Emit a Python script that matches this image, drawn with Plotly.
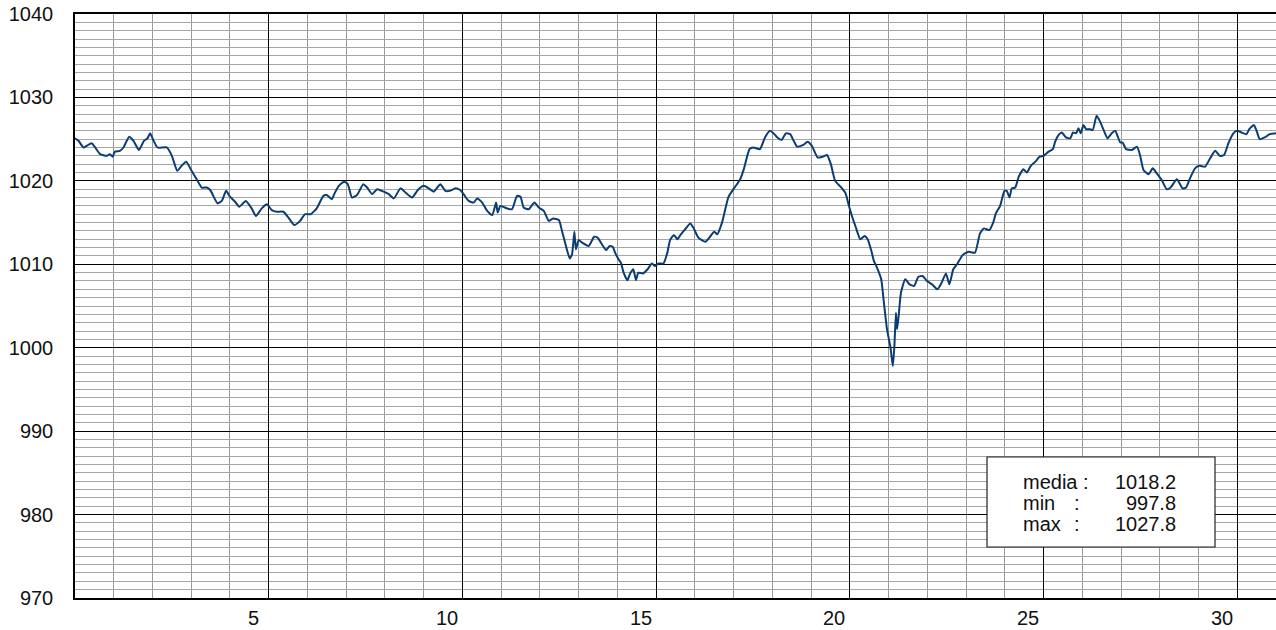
import plotly.graph_objects as go

# ---- data ----
day = [0.00,0.09,0.22,0.30,0.43,0.52,0.65,0.82,0.90,0.97,1.03,1.16,1.25,1.40,1.51,1.65,1.78,1.87,1.94,2.01,
       2.13,2.37,2.50,2.64,2.75,2.87,3.01,3.14,3.27,3.40,3.49,3.68,3.79,3.90,4.00,4.13,4.24,4.41,4.56,4.67,
       4.82,4.95,5.08,5.21,5.38,5.51,5.66,5.81,5.94,6.08,6.24,6.41,6.50,6.63,6.70,
       6.81,6.94,7.03,7.07,7.15,7.28,7.44,7.54,7.67,7.80,7.97,8.10,8.23,8.40,8.53,8.70,8.85,9.00,9.13,9.26,
       9.43,9.56,9.67,9.82,9.94,10.03,10.16,10.29,10.38,10.51,10.64,10.77,10.87,10.91,10.98,11.15,11.28,
       11.41,11.50,11.58,11.71,11.86,11.97,12.10,12.23,12.34,12.49,12.57,12.66,12.77,12.83,12.89,12.93,
       13.00,13.09,13.26,
       13.40,13.49,13.60,13.71,13.80,13.88,13.94,14.03,14.09,14.16,14.26,14.33,14.41,14.48,14.54,14.66,
       14.78,14.89,14.97,15.06,15.19,15.29,15.36,15.46,15.55,15.64,15.75,15.88,15.96,16.09,16.27,16.39,
       16.50,16.58,16.70,16.87,17.01,17.17,17.27,17.41,17.51,17.68,17.81,17.94,18.03,18.13,18.24,18.35,
       18.46,18.54,18.64,18.80,18.91,19.02,19.17,19.30,19.41,19.51,19.62,
       19.76,19.89,19.97,20.06,20.15,20.27,20.38,20.46,20.55,20.62,20.70,20.81,20.87,20.96,21.05,21.11,
       21.15,21.19,21.22,21.26,21.32,21.43,21.54,21.66,21.77,21.88,21.99,22.12,22.26,22.37,22.48,22.57,
       22.67,22.78,22.91,23.06,23.23,23.36,23.46,23.60,23.70,23.77,
       23.88,23.99,24.05,24.12,24.18,24.27,24.36,24.48,24.57,24.67,24.79,24.90,25.00,25.13,25.24,25.30,
       25.39,25.47,25.58,25.69,25.76,25.84,25.90,25.96,26.03,26.10,26.19,26.27,26.37,26.46,26.55,26.65,
       26.76,26.85,26.98,27.04,27.13,27.28,27.41,27.49,27.58,27.71,27.82,27.92,28.05,28.18,28.28,28.44,
       28.59,28.68,28.78,28.91,29.02,29.17,29.30,29.43,29.55,29.66,29.77,29.90,30.00,30.11,30.24,30.31,
       30.43,30.50,30.58,30.71,30.84,31.00]

pressure = [1025.1,1024.8,1024.0,1024.2,1024.5,1024.0,1023.2,1023.0,1023.2,1022.9,1023.5,1023.6,1024.0,1025.3,1024.8,1023.7,1024.8,1025.1,1025.7,1025.0,
            1024.0,1024.0,1023.0,1021.2,1021.8,1022.3,1021.2,1020.2,1019.2,1019.2,1018.9,1017.3,1017.6,1018.8,1018.1,1017.5,1016.9,1017.6,1016.7,1015.8,
            1016.7,1017.2,1016.5,1016.3,1016.3,1015.6,1014.7,1015.2,1016.0,1016.0,1016.7,1018.2,1018.3,1017.8,1018.5,
            1019.4,1019.9,1019.7,1019.2,1018.0,1018.3,1019.6,1019.2,1018.4,1019.0,1018.7,1018.4,1017.9,1019.1,1018.6,1018.0,1018.9,1019.4,1019.1,1018.7,
            1019.6,1018.8,1018.8,1019.1,1018.9,1018.4,1017.6,1017.4,1017.9,1017.4,1016.4,1015.9,1017.4,1016.2,1017.0,1016.7,1016.6,
            1018.2,1018.1,1016.8,1016.6,1017.4,1016.8,1016.4,1015.2,1015.5,1015.3,1014.0,1012.4,1010.7,1011.2,1013.9,1011.8,
            1012.9,1012.6,1012.2,
            1013.3,1013.2,1012.4,1011.7,1012.2,1012.1,1011.4,1010.6,1010.2,1009.0,1008.1,1008.9,1009.4,1008.1,1009.0,1008.9,
            1009.4,1010.1,1009.8,1010.1,1010.1,1011.4,1012.9,1013.5,1013.0,1013.6,1014.2,1014.9,1014.4,1013.2,1012.7,1013.3,
            1013.9,1013.6,1015.0,1018.1,1019.1,1020.2,1021.5,1023.8,1024.0,1023.8,1025.2,1026.0,1025.7,1025.2,1024.9,1025.7,
            1025.6,1024.9,1024.1,1024.3,1024.7,1024.2,1022.8,1022.9,1023.1,1022.0,1020.0,
            1019.3,1018.5,1017.1,1015.7,1014.5,1013.0,1013.4,1013.0,1011.7,1010.4,1009.6,1008.2,1005.8,1002.2,1000.0,997.8,
            1000.2,1004.2,1002.2,1003.8,1006.6,1008.2,1007.6,1007.4,1008.5,1008.6,1008.0,1007.6,1007.0,1007.8,1008.9,1007.6,
            1009.4,1010.1,1011.1,1011.5,1011.4,1013.7,1014.3,1014.1,1015.0,1016.1,
            1017.0,1018.8,1018.8,1018.0,1019.1,1019.2,1020.5,1021.4,1021.0,1021.8,1022.3,1022.9,1023.0,1023.5,1023.8,1024.7,
            1025.5,1025.8,1025.2,1025.1,1025.8,1025.7,1026.3,1025.7,1026.7,1026.2,1026.2,1026.1,1027.8,1027.1,1026.1,1025.1,
            1025.7,1026.0,1024.6,1024.6,1023.8,1023.7,1024.1,1023.1,1021.3,1020.8,1021.5,1020.9,1020.1,1019.0,1019.2,1020.2,
            1019.1,1019.2,1020.3,1021.5,1021.8,1021.7,1022.7,1023.6,1023.0,1023.1,1024.5,1025.7,1026.0,1025.8,1025.6,1026.2,
            1026.7,1026.0,1025.0,1025.2,1025.6,1025.7]

x_major_ticks = [5, 10, 15, 20, 25, 30]
x_tick_labels = ["5", "10", "15", "20", "25", "30"]
y_ticks = [970, 980, 990, 1000, 1010, 1020, 1030, 1040]

stat_names = ["media :", "min", "max"]
stat_values = [1018.2, 997.8, 1027.8]

# ---- figure ----
FONT = "Liberation Sans, Arial, sans-serif"
FS = 20
fig = go.Figure()
fig.add_trace(go.Scatter(x=day, y=pressure, mode="lines",
                         line=dict(color="#0b3d72", width=2, shape="spline", smoothing=0.5),
                         hoverinfo="skip", showlegend=False))

fig.update_layout(
    width=1276, height=630,
    margin=dict(l=75, r=0, t=14, b=32),
    paper_bgcolor="white", plot_bgcolor="white",
    font=dict(family=FONT, size=FS, color="#111"),
    xaxis=dict(range=[0, 31], tickmode="array", tickvals=x_major_ticks,
               showticklabels=False, ticks="",
               showgrid=True, gridcolor="#000", gridwidth=1,
               minor=dict(tick0=0, dtick=1, showgrid=True, gridcolor="#9a9a9a", gridwidth=1),
               zeroline=False, showline=True, linecolor="#000", linewidth=1.5, mirror=True),
    yaxis=dict(range=[970, 1040], tickmode="array", tickvals=y_ticks,
               ticks="", ticklabelstandoff=16,
               showgrid=True, gridcolor="#000", gridwidth=1,
               minor=dict(tick0=970, dtick=1, showgrid=True, gridcolor="#a6a6a6", gridwidth=1),
               zeroline=False, showline=True, linecolor="#000", linewidth=1.5),
)

# x tick labels sit slightly left of each major gridline
for v, t in zip(x_major_ticks, x_tick_labels):
    fig.add_annotation(x=v - 0.4, xref="x", y=0, yref="paper", yanchor="top",
                       yshift=-7, text=t, showarrow=False,
                       font=dict(family=FONT, size=FS, color="#111"))

# stats box (pixel -> paper coords; plot area 75..1276 x 14..598)
PL, PR, PT, PB = 75, 1276, 14, 598
def px2x(px):
    return (px - PL) / (PR - PL)
def py2y(py):
    return (PB - py) / (PB - PT)

fig.add_shape(type="rect", xref="paper", yref="paper",
              x0=px2x(987), x1=px2x(1215), y0=py2y(547), y1=py2y(457),
              fillcolor="white", line=dict(color="#222", width=1.2), layer="above")

rows_y = [482, 503, 524]
colon_x = [None, 1077, 1077]
for name, val, ry, cx in zip(stat_names, stat_values, rows_y, colon_x):
    fig.add_annotation(x=px2x(1021), xref="paper", y=py2y(ry), yref="paper",
                       xanchor="left", yanchor="middle", text=name, showarrow=False,
                       font=dict(family=FONT, size=FS, color="#111"))
    if cx is not None:
        fig.add_annotation(x=px2x(cx), xref="paper", y=py2y(ry), yref="paper",
                           xanchor="center", yanchor="middle", text=":", showarrow=False,
                           font=dict(family=FONT, size=FS, color="#111"))
    fig.add_annotation(x=px2x(1178), xref="paper", y=py2y(ry), yref="paper",
                       xanchor="right", yanchor="middle", text=f"{val:.1f}", showarrow=False,
                       font=dict(family=FONT, size=FS, color="#111"))

fig.write_html("out.html", config={"displayModeBar": False},
               post_script="document.body.style.margin='0';document.body.style.overflow='hidden';")
